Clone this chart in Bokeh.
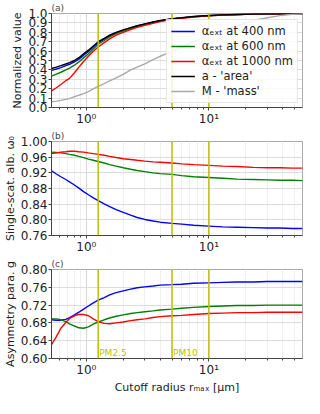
from bokeh.plotting import figure
from bokeh.layouts import column
from bokeh.models import Range1d, FixedTicker, PrintfTickFormatter, Span, Label
from bokeh.embed import file_html
from bokeh.resources import INLINE

# ---------------- data ----------------
r_cut = [0.52, 0.57, 0.62, 0.68, 0.73, 0.8, 0.87, 0.95, 1.04, 1.14, 1.25, 1.4, 1.55, 1.75,
         2.0, 2.3, 2.6, 3.0, 3.5, 4.0, 5.0, 6.0, 7.5, 10, 13, 17, 23, 30, 38, 48, 58]

# panel (a): normalized values
a_ext400 = [0.395, 0.41, 0.425, 0.445, 0.46, 0.485, 0.515, 0.555, 0.597, 0.643, 0.69, 0.727, 0.762, 0.795,
            0.82, 0.847, 0.867, 0.887, 0.907, 0.922, 0.943, 0.954, 0.967, 0.977, 0.985, 0.99, 0.994, 0.997, 0.998, 0.999, 1.0]
a_ext600 = [0.333, 0.355, 0.375, 0.40, 0.42, 0.45, 0.485, 0.528, 0.572, 0.622, 0.673, 0.713, 0.75, 0.785,
            0.814, 0.84, 0.862, 0.883, 0.903, 0.92, 0.941, 0.953, 0.966, 0.976, 0.984, 0.99, 0.994, 0.997, 0.998, 0.999, 1.0]
a_ext1000 = [0.176, 0.21, 0.245, 0.285, 0.31, 0.37, 0.43, 0.49, 0.545, 0.598, 0.644, 0.69, 0.73, 0.77,
             0.80, 0.828, 0.852, 0.873, 0.895, 0.913, 0.937, 0.95, 0.963, 0.975, 0.983, 0.989, 0.993, 0.996, 0.998, 0.999, 1.0]
a_area = [0.415, 0.43, 0.445, 0.463, 0.477, 0.50, 0.53, 0.57, 0.61, 0.655, 0.70, 0.735, 0.77, 0.80,
          0.825, 0.85, 0.87, 0.89, 0.91, 0.925, 0.945, 0.955, 0.968, 0.978, 0.985, 0.99, 0.994, 0.997, 0.998, 0.999, 1.0]
a_mass = [0.06, 0.068, 0.076, 0.086, 0.095, 0.115, 0.13, 0.148, 0.17, 0.198, 0.225, 0.255, 0.283, 0.315,
          0.352, 0.40, 0.43, 0.465, 0.51, 0.545, 0.598, 0.64, 0.70, 0.765, 0.82, 0.87, 0.925, 0.955, 0.977, 0.992, 1.0]

# panel (b): single-scattering albedo
w_400 = [0.925, 0.917, 0.91, 0.903, 0.897, 0.889, 0.881, 0.872, 0.864, 0.856, 0.849, 0.841, 0.834, 0.826,
         0.819, 0.812, 0.806, 0.801, 0.797, 0.794, 0.791, 0.789, 0.786, 0.784, 0.782, 0.781, 0.78, 0.779, 0.779, 0.778, 0.778]
w_600 = [0.973, 0.972, 0.971, 0.969, 0.967, 0.965, 0.962, 0.959, 0.955, 0.952, 0.949, 0.945, 0.941, 0.937,
         0.933, 0.929, 0.926, 0.923, 0.92, 0.918, 0.916, 0.913, 0.91, 0.908, 0.906, 0.904, 0.903, 0.902, 0.901, 0.901, 0.9]
w_1000 = [0.969, 0.971, 0.973, 0.974, 0.975, 0.975, 0.974, 0.973, 0.971, 0.969, 0.967, 0.965, 0.962, 0.959,
          0.956, 0.954, 0.952, 0.95, 0.948, 0.947, 0.945, 0.943, 0.941, 0.939, 0.937, 0.936, 0.934, 0.933, 0.933, 0.932, 0.932]

# panel (c): asymmetry parameter
g_400 = [0.687, 0.686, 0.686, 0.688, 0.692, 0.698, 0.704, 0.711, 0.718, 0.725, 0.731, 0.737, 0.743, 0.748,
         0.752, 0.756, 0.759, 0.761, 0.763, 0.765, 0.766, 0.767, 0.769, 0.770, 0.771, 0.772, 0.772, 0.773, 0.773, 0.773, 0.773]
g_600 = [0.689, 0.689, 0.687, 0.683, 0.678, 0.673, 0.669, 0.668, 0.671, 0.677, 0.682, 0.687, 0.691, 0.695,
         0.698, 0.701, 0.703, 0.705, 0.707, 0.709, 0.711, 0.713, 0.715, 0.717, 0.718, 0.719, 0.719, 0.72, 0.72, 0.72, 0.72]
g_1000 = [0.631, 0.649, 0.668, 0.681, 0.69, 0.696, 0.699, 0.699, 0.696, 0.689, 0.683, 0.679, 0.678, 0.68,
          0.682, 0.685, 0.687, 0.689, 0.692, 0.694, 0.696, 0.697, 0.699, 0.701, 0.702, 0.703, 0.703, 0.704, 0.704, 0.704, 0.704]

pm_radii = [1.25, 5.0, 10.0]
pm_labels = ["PM2.5", "PM10", ""]

x_major = [1, 10]
x_major_labels = {1: "10\u2070", 10: "10\u00b9"}
x_minor = [0.6, 0.7, 0.8, 0.9, 2, 3, 4, 5, 6, 7, 8, 9, 20, 30, 40, 50]
ya_ticks = [0.0, 0.1, 0.2, 0.3, 0.4, 0.5, 0.6, 0.7, 0.8, 0.9, 1.0]
yb_ticks = [0.76, 0.80, 0.84, 0.88, 0.92, 0.96, 1.00]
yc_ticks = [0.60, 0.64, 0.68, 0.72, 0.76, 0.80]

legend_labels = ["\u03b1\u2091\u2093\u209c at 400 nm", "\u03b1\u2091\u2093\u209c at 600 nm",
                 "\u03b1\u2091\u2093\u209c at 1000 nm", "a - 'area'", "M - 'mass'"]

# ---------------- styling ----------------
FONT = "DejaVu Sans"
C_BLUE, C_GREEN, C_RED, C_BLACK, C_GRAY = "#0000ff", "#008000", "#ff0000", "#000000", "#a9a9a9"
C_PM = "#bfbf00"
W = 304
LB, RB = 42, 2


def make_fig(height, yr, yticks, fmt, title, ylabel, bottom, xlabel=None):
    p = figure(width=W, height=height, x_axis_type="log",
               x_range=Range1d(0.52, 58), y_range=Range1d(yr[0], yr[1]),
               output_backend="svg", toolbar_location=None,
               min_border_left=LB, min_border_right=RB, min_border_top=11,
               min_border_bottom=bottom)
    p.title.text = title
    p.title.text_font = FONT
    p.title.text_font_size = "9px"
    p.title.text_font_style = "normal"
    p.title.align = "left"
    p.title.standoff = 1
    p.outline_line_color = "#aaaaaa"
    p.background_fill_color = "white"
    p.border_fill_color = "white"

    xa = p.xaxis[0]
    xa.ticker = FixedTicker(ticks=x_major, minor_ticks=x_minor)
    xa.major_label_overrides = x_major_labels
    ya = p.yaxis[0]
    ya.ticker = FixedTicker(ticks=yticks, minor_ticks=[])
    ya.formatter = PrintfTickFormatter(format=fmt)
    for ax in (xa, ya):
        ax.axis_line_color = "#444444"
        ax.major_tick_line_color = "#444444"
        ax.minor_tick_line_color = "#444444"
        ax.major_tick_out = 3
        ax.major_tick_in = 0
        ax.minor_tick_out = 2
        ax.minor_tick_in = 0
        ax.major_label_text_font = FONT
        ax.major_label_text_font_size = "12px"
        ax.major_label_text_color = "#222222"
        ax.major_label_standoff = 1
        ax.axis_label_text_font = FONT
        ax.axis_label_text_font_size = "11px"
        ax.axis_label_text_font_style = "normal"
        ax.axis_label_text_color = "#222222"
        ax.axis_label_standoff = 1
    ya.axis_label = ylabel
    if xlabel:
        xa.axis_label = xlabel
    p.xgrid.grid_line_color = "#d6d6d6"
    p.xgrid.minor_grid_line_color = "#efefef"
    p.ygrid.grid_line_color = "#dcdcdc"
    for r, lab in zip(pm_radii, pm_labels):
        p.add_layout(Span(location=r, dimension="height", line_color=C_PM, line_width=1.5))
    return p


# panel (a)
pa = make_fig(128, (0.0, 1.0), ya_ticks, "%.1f", "(a)", "Normalized value", 19)
for ys, col, lab in zip([a_ext400, a_ext600, a_ext1000, a_area, a_mass],
                        [C_BLUE, C_GREEN, C_RED, C_BLACK, C_GRAY], legend_labels):
    pa.line(r_cut, ys, line_color=col, line_width=1.4, legend_label=lab)
lg = pa.legend[0]
lg.location = "bottom_right"
lg.margin = 4
lg.padding = 4
lg.spacing = 1
lg.label_height = 14
lg.glyph_height = 14
lg.glyph_width = 24
lg.label_standoff = 7
lg.label_text_font = FONT
lg.label_text_font_size = "11.5px"
lg.label_text_color = "#222222"
lg.border_line_color = "#cccccc"
lg.background_fill_alpha = 0.85

# panel (b)
pb = make_fig(128, (0.76, 1.00), yb_ticks, "%.2f", "(b)", "Single-scat. alb. \u03c9\u2080", 19)
for ys, col in zip([w_400, w_600, w_1000], [C_BLUE, C_GREEN, C_RED]):
    pb.line(r_cut, ys, line_color=col, line_width=1.4)

# panel (c)
pc = make_fig(140, (0.60, 0.80), yc_ticks, "%.2f", "(c)", "Asymmetry para. g", 31,
              xlabel="Cutoff radius r\u2098\u2090\u2093 [\u03bcm]")
for ys, col in zip([g_400, g_600, g_1000], [C_BLUE, C_GREEN, C_RED]):
    pc.line(r_cut, ys, line_color=col, line_width=1.4)
for r, lab in zip(pm_radii, pm_labels):
    if lab:
        pc.add_layout(Label(x=r, y=yc_ticks[0], text=lab, x_offset=1, y_offset=1,
                            text_font=FONT, text_font_size="9px", text_color=C_PM,
                            text_baseline="bottom"))

layout = column(pa, pb, pc, spacing=0)
open("out.html", "w").write(file_html(layout, INLINE))
